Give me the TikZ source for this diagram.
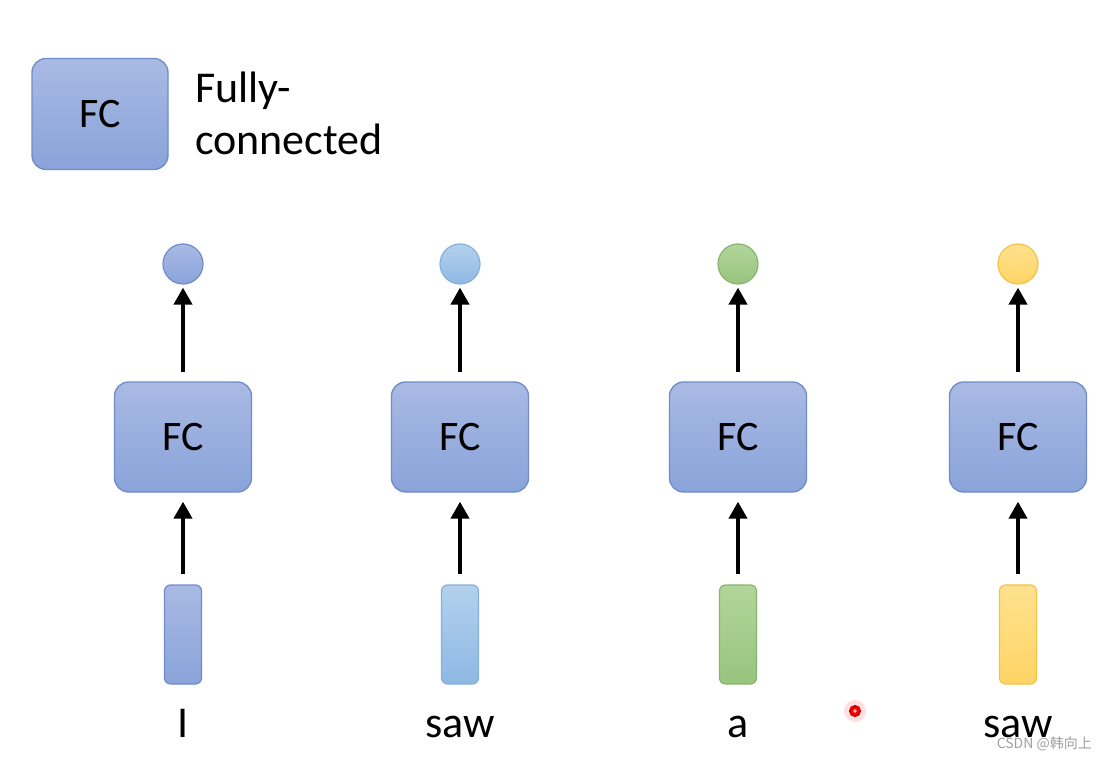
\documentclass[tikz,border=0pt]{standalone}
\usepackage{fontspec}
\setmainfont{Carlito}
\newfontfamily\cjkfont{Noto Sans CJK SC}
\usetikzlibrary{arrows.meta}
\definecolor{bluetop}{HTML}{A9BAE4}
\definecolor{bluebot}{HTML}{8AA3D9}
\definecolor{blueedge}{HTML}{6F8CC8}
\definecolor{ltop}{HTML}{B3D1EE}
\definecolor{lbot}{HTML}{8EB8E3}
\definecolor{ledge}{HTML}{86B0DA}
\definecolor{gtop}{HTML}{B2D59B}
\definecolor{gbot}{HTML}{98C47E}
\definecolor{gedge}{HTML}{87B56E}
\definecolor{ytop}{HTML}{FFE18E}
\definecolor{ybot}{HTML}{FFD466}
\definecolor{yedge}{HTML}{F2C446}
\tikzset{
  fcbox/.style={draw=blueedge, line width=1.3pt, rounded corners=14pt,
    top color=bluetop, bottom color=bluebot, minimum width=137pt, minimum height=110pt,
    inner sep=0pt, font=\fontsize{42}{42}\selectfont},
  vec/.style={draw=#1edge, line width=1.2pt, rounded corners=6pt,
    top color=#1top, bottom color=#1bot, minimum width=37pt, minimum height=99pt, inner sep=0pt},
  outc/.style={circle, draw=#1edge, line width=1.2pt, top color=#1top, bottom color=#1bot,
    minimum size=40pt, inner sep=0pt},
  word/.style={font=\fontsize{44}{44}\selectfont, anchor=base, inner sep=0pt},
  up/.style={-{Triangle[width=18pt,length=17pt]}, line width=4pt, black},
}
\begin{document}
\begin{tikzpicture}[x=1pt,y=-1pt]
\useasboundingbox (0,0) rectangle (1107,759);
\fill[white] (0,0) rectangle (1107,759);
% legend
\node[fcbox, minimum width=136pt, minimum height=111pt] (leg) at (100,114) {FC};
\node[anchor=base west, inner sep=0pt, font=\fontsize{44}{44}\selectfont] (legt1) at (195,103) {Fully-};
\node[anchor=base west, inner sep=0pt, font=\fontsize{44}{44}\selectfont] (legt2) at (195,155) {connected};
% columns
\foreach \i/\x/\c/\w in {1/183/blue/I, 2/460/l/saw, 3/738/g/a, 4/1018/y/saw}{
  \node[outc=\c] (o\i) at (\x,264) {};
  \node[fcbox] (f\i) at (\x,437) {FC};
  \node[vec=\c] (v\i) at (\x,634.5) {};
  \node[word] (w\i) at (\x,737) {\w};
  \draw[up, shorten <=9pt, shorten >=3pt] (f\i.north) -- (o\i.south);
  \draw[up, shorten <=10pt, shorten >=9pt] (v\i.north) -- (f\i.south);
}
% laser pointer dot
\fill[red!20, opacity=0.6] (855,711) circle (11pt);
\node[circle, draw=red!85!black, fill=red, line width=2pt, minimum size=10pt, inner sep=0pt] (dot) at (855,711) {};
\fill[white!80!red] (dot.center) circle (1.8pt);
% watermark
\node[anchor=base east, inner sep=0pt, text=gray!75, font=\cjkfont\fontsize{14}{14}\selectfont] (wm) at (1092,748) {CSDN @韩向上};
\end{tikzpicture}
\end{document}
